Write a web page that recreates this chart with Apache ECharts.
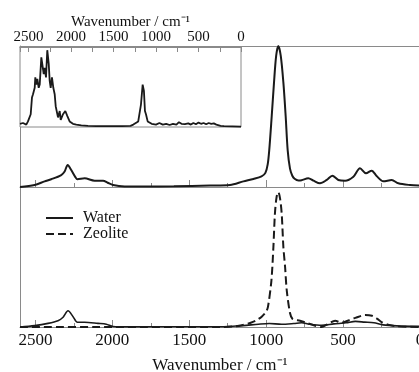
<!DOCTYPE html>
<html>
<head>
<meta charset="utf-8">
<script src="https://cdn.jsdelivr.net/npm/echarts@6/dist/echarts.min.js"></script>
<style>
  html, body { margin: 0; padding: 0; background: #fff; }
  #chart { width: 419px; height: 372px; }
</style>
</head>
<body>
<div id="chart"></div>
<script>
// [wavenumber, intensity]
const waterTop = [
  [2600, 0], [2505, 0.014], [2440, 0.04], [2397, 0.055], [2332, 0.085], [2310, 0.11],
  [2290, 0.156], [2267, 0.12], [2240, 0.07], [2227, 0.055], [2180, 0.062], [2115, 0.045],
  [2060, 0.045], [2030, 0.03], [1995, 0.014], [1920, 0.004], [1800, 0.003], [1600, 0.005],
  [1365, 0.01], [1235, 0.014], [1148, 0.04], [1083, 0.057], [1030, 0.075], [1005, 0.1],
  [990, 0.16], [980, 0.26], [964, 0.5], [949, 0.74], [935, 0.93], [921, 1.0], [905, 0.93],
  [888, 0.74], [873, 0.5], [860, 0.26], [845, 0.13], [830, 0.08], [815, 0.058], [790, 0.046],
  [770, 0.048], [726, 0.062], [693, 0.045], [650, 0.026], [606, 0.05], [570, 0.08],
  [531, 0.05], [487, 0.045], [433, 0.073], [390, 0.133], [351, 0.097], [314, 0.116],
  [282, 0.078], [238, 0.04], [184, 0.05], [141, 0.026], [65, 0.014], [0, 0.01]
];

const waterBottom = [
  [2600, 0], [2505, 0.01], [2418, 0.026], [2353, 0.045], [2320, 0.07], [2288, 0.116],
  [2255, 0.074], [2227, 0.034], [2180, 0.034], [2093, 0.026], [2039, 0.02], [1995, 0.004],
  [1900, 0.001], [1500, 0.002], [1250, 0.003], [1150, 0.01], [1050, 0.02], [980, 0.025],
  [900, 0.02], [820, 0.025], [770, 0.03], [720, 0.02], [640, 0.012], [560, 0.022],
  [480, 0.03], [420, 0.04], [360, 0.035], [300, 0.03], [240, 0.015], [150, 0.008], [0, 0.004]
];

const zeolite = [
  [2600, 0], [2000, 0], [1300, 0], [1200, 0.005], [1150, 0.015], [1100, 0.03],
  [1060, 0.05], [1029, 0.074], [1000, 0.11], [988, 0.145], [966, 0.33], [953, 0.57],
  [943, 0.81], [932, 0.93], [921, 0.964], [910, 0.92], [899, 0.81], [888, 0.57],
  [877, 0.43], [866, 0.26], [845, 0.1], [830, 0.06], [812, 0.05], [780, 0.045],
  [740, 0.03], [690, 0.012], [640, 0.0], [600, 0.02], [552, 0.045], [510, 0.03],
  [470, 0.045], [420, 0.065], [357, 0.085], [312, 0.08], [280, 0.06], [250, 0.035],
  [200, 0.015], [150, 0.005], [0, 0]
];

const inset = [
  [2600, 0.04], [2565, 0.05], [2526, 0.03], [2506, 0.07], [2490, 0.05], [2474, 0.16],
  [2459, 0.37], [2447, 0.41], [2427, 0.49], [2420, 0.62], [2408, 0.53], [2396, 0.6],
  [2380, 0.49], [2368, 0.53], [2349, 0.87], [2338, 0.79], [2321, 0.66], [2310, 0.74],
  [2294, 0.62], [2279, 0.96], [2262, 0.79], [2251, 0.58], [2239, 0.49], [2224, 0.62],
  [2208, 0.49], [2192, 0.41], [2180, 0.26], [2161, 0.24], [2153, 0.12], [2133, 0.2],
  [2121, 0.09], [2094, 0.16], [2067, 0.2], [2044, 0.14], [2016, 0.07], [1977, 0.04],
  [1938, 0.03], [1879, 0.02], [1800, 0.015], [1700, 0.012], [1600, 0.01], [1500, 0.01],
  [1400, 0.012], [1300, 0.015], [1267, 0.03], [1209, 0.07], [1177, 0.28], [1157, 0.53],
  [1142, 0.45], [1130, 0.2], [1118, 0.16], [1098, 0.07], [1051, 0.04], [1000, 0.03],
  [960, 0.05], [920, 0.03], [880, 0.04], [840, 0.025], [800, 0.04], [760, 0.03],
  [730, 0.06], [718, 0.07], [700, 0.04], [660, 0.035], [620, 0.045], [590, 0.03],
  [560, 0.05], [530, 0.035], [500, 0.055], [470, 0.04], [440, 0.05], [410, 0.035],
  [380, 0.05], [350, 0.04], [320, 0.045], [290, 0.03], [268, 0.02], [240, 0.015],
  [200, 0.01], [100, 0.008], [0, 0.005]
];

const font = 'Liberation Serif';
const axisGray = '#8a8a8a';
const ink = '#1a1a1a';

const chart = echarts.init(document.getElementById('chart'));

const wnAxis = (gridIndex, extra) => Object.assign({
  type: 'value',
  gridIndex,
  min: 0,
  max: 2600,
  interval: 500,
  inverse: true,
  splitLine: { show: false },
  axisLine: { show: true, onZero: false, lineStyle: { color: axisGray, width: 1 } },
  axisTick: { show: true, inside: true, length: 7, lineStyle: { color: axisGray } },
  minorTick: { show: true, splitNumber: 2, length: 4, lineStyle: { color: axisGray } },
  axisLabel: { show: false }
}, extra);

const hiddenY = (gridIndex, max, showLine) => ({
  type: 'value', gridIndex, min: 0, max, position: 'left',
  axisLine: { show: showLine, onZero: false, lineStyle: { color: axisGray } },
  axisTick: { show: false }, axisLabel: { show: false }, splitLine: { show: false }
});

chart.setOption({
  animation: false,
  backgroundColor: '#fff',
  grid: [
    { left: 20, top: 46, width: 400, height: 141, outerBoundsMode: 'none' },
    { left: 20, top: 187, width: 400, height: 140, outerBoundsMode: 'none' },
    { left: 20, top: 47, width: 221, height: 80, show: true, backgroundColor: '#fff',
      borderColor: axisGray, borderWidth: 1, z: 5, outerBoundsMode: 'none' }
  ],
  legend: {
    data: ['Water', 'Zeolite'],
    orient: 'vertical',
    left: 40,
    top: 205,
    itemWidth: 27,
    itemHeight: 10,
    itemGap: 0,
    itemStyle: { opacity: 0 },
    textStyle: { fontFamily: font, fontSize: 16, lineHeight: 14, color: '#111',
      padding: [0, 0, 0, 5] }
  },
  xAxis: [
    wnAxis(0, {}),
    wnAxis(0, { position: 'top', axisTick: { show: false }, minorTick: { show: false } }),
    wnAxis(1, {
      axisLabel: { show: true, showMaxLabel: false, margin: 5, color: '#111',
        fontFamily: font, fontSize: 17, formatter: v => String(v) },
      name: 'Wavenumber / cm\u207B\u00B9',
      nameLocation: 'middle',
      nameGap: 30,
      nameTextStyle: { fontFamily: font, fontSize: 17, color: '#111' }
    }),
    wnAxis(2, {
      position: 'top',
      z: 6,
      axisTick: { show: true, inside: true, length: 5, lineStyle: { color: axisGray } },
      minorTick: { show: true, splitNumber: 2, length: 5, lineStyle: { color: axisGray } },
      axisLabel: { show: true, showMaxLabel: false, margin: 2, color: '#111',
        fontFamily: font, fontSize: 15, formatter: v => String(v) },
      name: 'Wavenumber / cm\u207B\u00B9',
      nameLocation: 'middle',
      nameGap: 16,
      nameTextStyle: { fontFamily: font, fontSize: 15, color: '#111' }
    })
  ],
  yAxis: [
    hiddenY(0, 1, true),
    hiddenY(1, 1, true),
    hiddenY(2, 1, false)
  ],
  series: [
    {
      name: 'Water (top)', type: 'line', xAxisIndex: 0, yAxisIndex: 0,
      data: waterTop, showSymbol: false, smooth: 0.3,
      lineStyle: { color: ink, width: 2 }
    },
    {
      name: 'Water', type: 'line', xAxisIndex: 2, yAxisIndex: 1,
      data: waterBottom, symbol: 'none', smooth: 0.3,
      itemStyle: { color: ink },
      lineStyle: { color: ink, width: 1.6 }
    },
    {
      name: 'Zeolite', type: 'line', xAxisIndex: 2, yAxisIndex: 1,
      data: zeolite, symbol: 'none', smooth: 0.3,
      itemStyle: { color: ink },
      lineStyle: { color: ink, width: 2, type: [8, 4] }
    },
    {
      name: 'Inset', type: 'line', xAxisIndex: 3, yAxisIndex: 2, z: 7,
      data: inset, showSymbol: false,
      lineStyle: { color: ink, width: 1.8 }
    }
  ]
});
</script>
</body>
</html>
